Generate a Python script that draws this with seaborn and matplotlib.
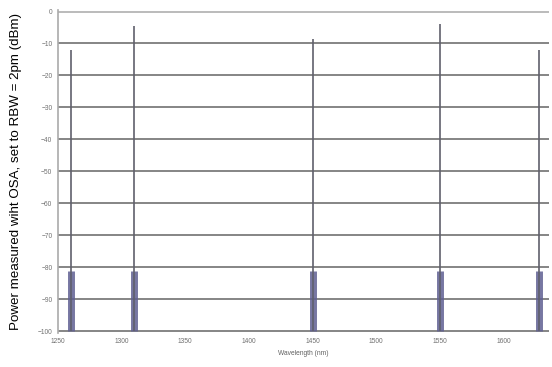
import matplotlib
matplotlib.use("Agg")
import matplotlib.pyplot as plt
import seaborn as sns
import pandas as pd

# channel peaks
peak_wavelength = [1260, 1310, 1450, 1550, 1628]   # nm
peak_power = [-12, -4.5, -8.5, -4, -12]            # dBm
pedestal_power = [-81, -81, -81, -81, -81]         # dBm, broad base of each line

y_ticks = [0, -10, -20, -30, -40, -50, -60, -70, -80, -90, -100]
x_ticks = [1250, 1300, 1350, 1400, 1450, 1500, 1550, 1600]

floor = -100

sns.set_theme(style="white")
plt.rcParams['font.family'] = ['Liberation Sans', 'DejaVu Sans']

df = pd.DataFrame({
    "wavelength": peak_wavelength,
    "peak": peak_power,
    "pedestal": pedestal_power,
})

fig = plt.figure(figsize=(5.52, 3.67), dpi=100)
ax = fig.add_axes([0.105, 0.093, 0.89, 0.88])

# horizontal grid
for y in y_ticks:
    ax.axhline(y, color="#bbbbbb" if y == 0 else "#858585", lw=1.4, zorder=1)

# broad pedestal and the narrow line of each channel
ax.vlines(df["wavelength"], floor, df["pedestal"], color="#5f5f92", lw=5, alpha=0.85, zorder=2)
ax.vlines(df["wavelength"], floor, df["peak"], color="#60606c", lw=1.2, zorder=3)

ax.set_xlim(1250, 1636)
ax.set_ylim(-100.5, 0.5)
ax.set_xticks(x_ticks)
ax.set_yticks(y_ticks)
ax.tick_params(axis="both", labelsize=4.8, colors="#707070", length=0, pad=4)
ax.set_ylabel("Power measured wiht OSA, set to RBW = 2pm (dBm)", fontsize=9.6, color="black", labelpad=11)
ax.set_xlabel("Wavelength (nm)", fontsize=4.8, color="#606060", labelpad=3)

for side in ["top", "right", "bottom"]:
    ax.spines[side].set_visible(False)
ax.spines["left"].set_color("#aaaaaa")
ax.spines["left"].set_linewidth(1.2)

fig.savefig("out.png", dpi=100)
